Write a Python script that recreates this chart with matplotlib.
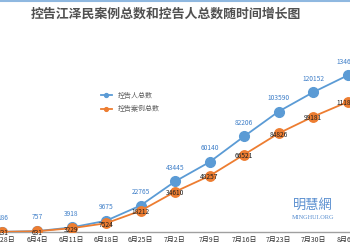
import numpy as np
import matplotlib
matplotlib.use("Agg")
import matplotlib.pyplot as plt

plt.rcParams['font.family'] = ['Noto Sans CJK SC', 'DejaVu Sans']

dates = ["5月28日", "6月4日", "6月11日", "6月18日", "6月25日", "7月2日",
         "7月9日", "7月16日", "7月23日", "7月30日", "8月6日"]
people = [186, 757, 3918, 9675, 22765, 43445, 60140, 82206, 103590, 120152, 134650]
cases = [131, 631, 3229, 7524, 18212, 34610, 48257, 66521, 84826, 99181, 111820]

blue = "#5b9bd5"
orange = "#ed7d31"

fig = plt.figure(figsize=(3.5, 2.5), dpi=100)
fig.patch.set_facecolor("white")
# thin blue strip at top
fig.add_artist(plt.Line2D([0, 1], [0.997, 0.997], color="#8fb8e0", lw=1.5))

ax = fig.add_axes([0, 0.072, 1, 0.808])
x = np.arange(len(dates))
ax.plot(x, people, color=blue, lw=1.3, marker="o", ms=7, label="控告人总数", zorder=3)
ax.plot(x, cases, color=orange, lw=1.3, marker="o", ms=6.8, label="控告案例总数", zorder=3)

for xi, v in zip(x, people):
    ax.annotate(str(v), (xi, v), xytext=(0, 7), textcoords="offset points",
                ha="center", va="bottom", fontsize=4.8, color="#3f7fc8")
for xi, v in zip(x, cases):
    ax.annotate(str(v), (xi, v), xytext=(0, -1), textcoords="offset points",
                ha="center", va="center", fontsize=4.8, color="#202020", zorder=4)

ax.set_xlim(-0.072, 10.07)
ax.set_ylim(0, 173700)
ax.set_xticks(x)
ax.set_xticklabels(dates, fontsize=5, color="#333333")
ax.tick_params(axis="x", length=0, pad=3)
ax.set_yticks([])
for s in ["top", "right", "left"]:
    ax.spines[s].set_visible(False)
ax.spines["bottom"].set_color("#a0a0a0")
ax.spines["bottom"].set_linewidth(1.0)

leg = ax.legend(loc="upper left", bbox_to_anchor=(0.27, 0.725), frameon=False,
                fontsize=5, handlelength=1.6, labelspacing=0.75, markerscale=0.4,
                labelcolor="#606060")

fig.text(0.475, 0.945, "控告江泽民案例总数和控告人总数随时间增长图", ha="center", va="center",
         fontsize=9.3, color="#505050", fontweight="bold")

fig.text(0.895, 0.178, "明慧網", ha="center", va="center", fontsize=9.5,
         color="#5a8fd0")
fig.text(0.895, 0.13, "MINGHUI.ORG", ha="center", va="center", fontsize=4.5,
         color="#5a8fd0", family="Liberation Serif")

fig.savefig("out.png", dpi=100)
